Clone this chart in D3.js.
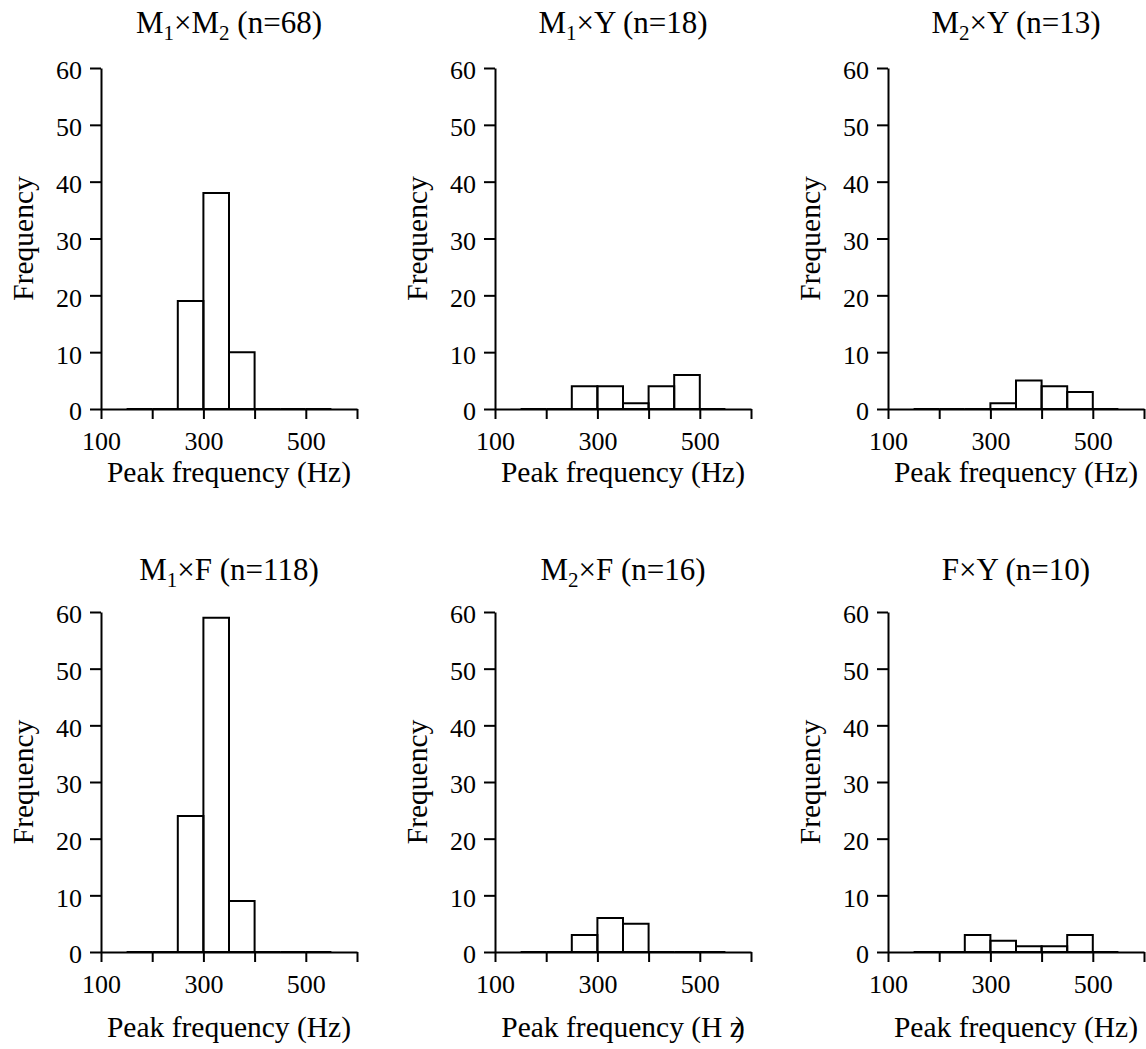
<!DOCTYPE html>
<html>
<head>
<meta charset="utf-8">
<script src="https://cdn.jsdelivr.net/npm/d3@7"></script>
<style>
  body { margin: 0; background: #fff; }
  svg text { font-family: "Liberation Serif", "Times New Roman", serif; fill: #000; }
</style>
</head>
<body>
<div id="chart"></div>
<script>
// --- data ---
const binStarts = [150, 200, 250, 300, 350, 400, 450, 500];   // Hz, bin width 50
const binWidth = 50;
const xTicks = [100, 200, 300, 400, 500, 600];
const xTickLabels = [100, 300, 500];
const yTicks = [0, 10, 20, 30, 40, 50, 60];

const titles = ["M_1×M_2 (n=68)", "M_1×Y (n=18)", "M_2×Y (n=13)",
                "M_1×F (n=118)", "M_2×F (n=16)", "F×Y (n=10)"];
const m1m2 = [0, 0, 19, 38, 10, 0, 0, 0];
const m1y  = [0, 0, 4, 4, 1, 4, 6, 0];
const m2y  = [0, 0, 0, 1, 5, 4, 3, 0];
const m1f  = [0, 0, 24, 59, 9, 0, 0, 0];
const m2f  = [0, 0, 3, 6, 5, 0, 0, 0];
const fy   = [0, 0, 3, 2, 1, 1, 3, 0];
const series = [m1m2, m1y, m2y, m1f, m2f, fy];

// --- layout ---
const W = 1146, H = 1049;
const colX = [101, 495, 888];
const plotW = 256;
const rows = [{ top: 68, bottom: 409, title: 35, label: 73 },
              { top: 612, bottom: 952, title: 32, label: 85 }];

const svg = d3.select("#chart").append("svg")
    .attr("width", W).attr("height", H);

function addTitle(g, str, x, y) {
    const t = g.append("text").attr("x", x).attr("y", y)
        .attr("text-anchor", "middle").attr("font-size", 31);
    str.split(/_(\d)/).forEach((part, i) => {
        if (!part) return;
        if (i % 2 === 1) {
            t.append("tspan").attr("font-size", 21).attr("dy", 7).text(part);
        } else {
            t.append("tspan").attr("dy", i > 0 ? -7 : 0).text(part);
        }
    });
}

series.forEach((vals, i) => {
    const r = rows[Math.floor(i / 3)];
    const x0 = colX[i % 3];
    const x = d3.scaleLinear().domain([100, 600]).range([x0, x0 + plotW]);
    const y = d3.scaleLinear().domain([0, 60]).range([r.bottom, r.top]);
    const g = svg.append("g");

    // bars (zero bins drawn as flat lines on the baseline)
    g.selectAll("path.bar").data(vals).join("path")
        .attr("class", "bar")
        .attr("fill", "none").attr("stroke", "#000").attr("stroke-width", 2)
        .attr("d", (d, j) => {
            const a = x(binStarts[j]), b = x(binStarts[j] + binWidth);
            return `M${a},${y(0)}V${y(d)}H${b}V${y(0)}Z`;
        });

    const yAxis = g.append("g").attr("transform", `translate(${x0},0)`)
        .call(d3.axisLeft(y).tickValues(yTicks).tickSize(11).tickSizeOuter(0).tickPadding(8));
    yAxis.selectAll("text").attr("font-size", 26).attr("dy", "0.42em")
        .style("font-family", "'Liberation Serif', serif");

    const xAxis = g.append("g").attr("transform", `translate(0,${r.bottom})`)
        .call(d3.axisBottom(x).tickValues(xTicks).tickSize(10).tickSizeOuter(0).tickPadding(13)
            .tickFormat(d => xTickLabels.includes(d) ? d : ""));
    xAxis.selectAll("text").attr("font-size", 26)
        .style("font-family", "'Liberation Serif', serif");

    [yAxis, xAxis].forEach(a => {
        a.selectAll("path, line").attr("stroke", "#000").attr("stroke-width", 2);
    });

    const cx = x0 + plotW / 2;
    addTitle(g, titles[i], cx, r.top - r.title);

    const xl = g.append("text").attr("x", cx).attr("y", r.bottom + r.label)
        .attr("text-anchor", "middle").attr("font-size", 29.5);
    if (i === 4) {
        // the reference has a misprinted "(H z)" on this panel
        xl.text("Peak frequency (H z");
        xl.append("tspan").attr("dx", -8).text(")");
    } else {
        xl.text("Peak frequency (Hz)");
    }

    g.append("text")
        .attr("transform", `translate(${x0 - 68},${(r.top + r.bottom) / 2}) rotate(-90)`)
        .attr("text-anchor", "middle").attr("font-size", 29.5)
        .text("Frequency");
});
</script>
</body>
</html>
